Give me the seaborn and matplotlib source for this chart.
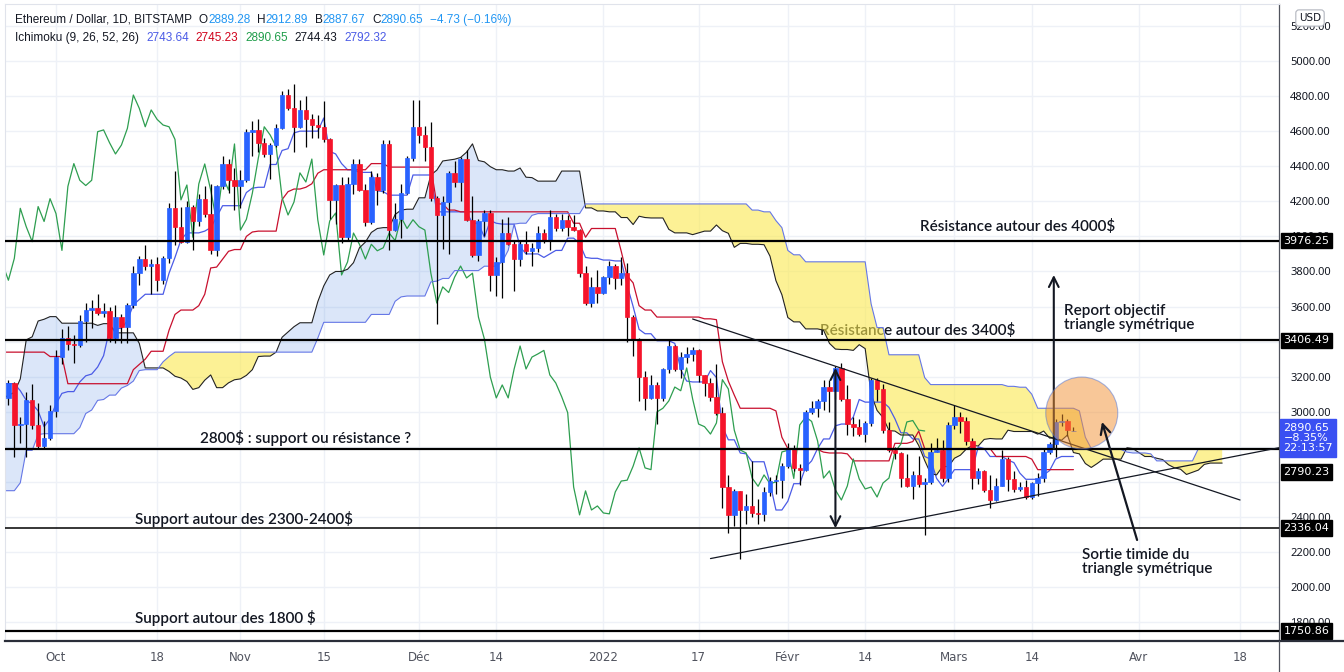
import numpy as np
import pandas as pd
import matplotlib
matplotlib.use('Agg')
import matplotlib.pyplot as plt
import matplotlib.dates as mdates
import matplotlib.transforms as mtransforms
from matplotlib.patches import Ellipse
from matplotlib.lines import Line2D
import seaborn as sns

# ---- daily candles ETH/USD (Bitstamp), 2021-09-23 .. 2022-03-21
opens = [
    3079, 3164, 2925, 2930, 3065, 2925, 2805, 2850,
    3005, 3310, 3420, 3385, 3380, 3515, 3580, 3590, 3565, 3575, 3420, 3540, 3485, 3610, 3790, 3870,
    3830, 3845, 3750, 3875, 4160, 4055, 3970, 4170, 4085, 4215, 4130, 3920, 4285, 4415, 4320,
    4290, 4320, 4597, 4607, 4534, 4470, 4521, 4616, 4806, 4730, 4625, 4721, 4667, 4635, 4625,
    4553, 4208, 4293, 3995, 4299, 4413, 4264, 4084, 4341, 4264, 4527, 4036, 4097, 4246, 4445,
    4625, 4578, 4512, 4220, 4122, 4196, 4362, 4310, 4441, 4094, 3894, 4088, 4133, 3780, 3854,
    4019, 3955, 3871, 3955, 3918, 3935, 4019, 3976, 4110, 4045, 4095, 4055, 4036, 3791, 3620, 3712,
    3680, 3768, 3831, 3763, 3790, 3540, 3415, 3198, 3079, 3153, 3079, 3244, 3375, 3244, 3312,
    3330, 3350, 3210, 3164, 3085, 2995, 2571, 2412, 2549, 2440, 2463, 2423, 2418, 2543, 2605, 2610,
    2690, 2794, 2680, 2670, 2999, 3020, 3062, 3141, 3120, 3250, 3073, 2930, 2915, 2873, 2936,
    3183, 3130, 2895, 2782, 2765, 2622, 2575, 2640, 2590, 2600, 2771, 2780, 2620,
    2925, 2970, 2945, 2834, 2622, 2663, 2554, 2497, 2577, 2731, 2617, 2560, 2571, 2514, 2594,
    2622, 2771, 2816, 2942, 2950, 2889.28,
]
highs = [
    3180, 3170, 2970, 3110, 3160, 3050, 2950, 3040,
    3350, 3470, 3490, 3440, 3550, 3620, 3640, 3670, 3620, 3600, 3610, 3560, 3620, 3830, 3890, 3950,
    3870, 3880, 3890, 4190, 4370, 4170, 4200, 4180, 4240, 4290, 4300, 4295, 4460, 4440, 4390,
    4380, 4610, 4660, 4670, 4560, 4530, 4640, 4830, 4840, 4870, 4780, 4800, 4700, 4690, 4770,
    4560, 4300, 4340, 4340, 4440, 4440, 4300, 4370, 4360, 4550, 4550, 4190, 4300, 4460, 4780,
    4780, 4630, 4650, 4230, 4230, 4370, 4430, 4450, 4490, 4230, 4100, 4150, 4150, 3880, 4100,
    4110, 3980, 3980, 4030, 3960, 4060, 4040, 4150, 4130, 4130, 4120, 4120, 4040, 3830, 3770, 3810,
    3775, 3860, 3840, 3880, 3850, 3550, 3420, 3230, 3210, 3170, 3250, 3410, 3380, 3340, 3370,
    3370, 3360, 3210, 3190, 3270, 3030, 2640, 2560, 2550, 2530, 2720, 2500, 2570, 2630, 2640, 2710,
    2820, 2810, 2700, 3010, 3060, 3070, 3180, 3180, 3260, 3280, 3150, 2970, 2960, 2950, 3190,
    3190, 3160, 2940, 2800, 2770, 2760, 2660, 2750, 2620, 2820, 2850, 2840, 2940,
    3040, 3000, 2970, 2850, 2680, 2670, 2640, 2620, 2780, 2740, 2660, 2600, 2610, 2600, 2650,
    2790, 2830, 2960, 2990, 2960, 2912.89,
]
lows = [
    3040, 2740, 2820, 2740, 2900, 2790, 2790, 2840,
    2970, 3270, 3350, 3280, 3370, 3400, 3480, 3550, 3540, 3400, 3390, 3390, 3390, 3590, 3720, 3810,
    3670, 3690, 3730, 3850, 3950, 3960, 3960, 3920, 4060, 4110, 3900, 3890, 4270, 4250, 4150,
    4160, 4310, 4460, 4480, 4450, 4330, 4510, 4610, 4720, 4480, 4620, 4510, 4560, 4560, 4540,
    4100, 4070, 3960, 3980, 4240, 4260, 4060, 4070, 4180, 4250, 3920, 4030, 3990, 4240, 4430,
    4530, 4430, 4200, 3500, 3930, 3900, 4280, 4200, 4090, 3880, 3860, 4000, 3690, 3660, 3650,
    3950, 3690, 3830, 3900, 3830, 3910, 3960, 3920, 4030, 4030, 4000, 4030, 3770, 3610, 3600, 3620,
    3670, 3730, 3700, 3720, 3400, 3320, 3060, 3010, 3070, 2930, 3060, 3220, 3230, 3190, 3280,
    3290, 3170, 3090, 3060, 2980, 2450, 2310, 2350, 2160, 2360, 2400, 2360, 2380, 2520, 2530, 2510,
    2680, 2660, 2580, 2660, 2990, 2970, 3010, 3000, 3070, 3060, 2870, 2860, 2860, 2830, 2920,
    3060, 2880, 2770, 2730, 2570, 2570, 2500, 2570, 2300, 2590, 2770, 2600, 2600,
    2900, 2880, 2810, 2560, 2590, 2540, 2450, 2490, 2575, 2550, 2540, 2550, 2500, 2500, 2520,
    2600, 2760, 2740, 2920, 2860, 2887.67,
]
closes = opens[1:-1] + [2895.38, 2890.65]

# earlier highs / lows (2021-07-08 .. 2021-09-22), only feed the Ichimoku windows
pre_high = [
    2330, 2200, 2190, 2150, 2150, 2040, 2000, 2030, 1970, 1930, 1960, 1910, 1830, 2030, 2040, 2130,
    2190, 2200, 2450, 2320, 2340, 2400, 2470, 2550,
    2700, 2660, 2630, 2740, 2840, 2950, 3180, 3180, 3180, 3230, 3270, 3240, 3320, 3330, 3330, 3330,
    3290, 3130, 3190, 3290, 3340, 3300, 3380, 3360, 3250, 3250, 3280, 3280, 3250, 3330, 3470,
    3840, 3840, 4020, 4030, 3980, 3980, 3980, 3550, 3560, 3530, 3280, 3460, 3440, 3440, 3600, 3670,
    3590, 3480, 3440, 3360, 3100, 3100,
]
pre_low = [
    2090, 2080, 2080, 2080, 2020, 1950, 1910, 1900, 1860, 1880, 1880, 1800, 1720, 1790, 1950, 1990,
    2100, 2110, 2180, 2160, 2240, 2270, 2320, 2440,
    2550, 2550, 2450, 2540, 2600, 2730, 2880, 2990, 2950, 3060, 3120, 2960, 3030, 3160, 3110, 3150,
    2980, 2960, 2960, 3160, 3170, 3150, 3240, 3150, 3080, 3080, 3090, 3190, 3150, 3170, 3200,
    3390, 3720, 3710, 3840, 3860, 3850, 3000, 3210, 3400, 3200, 3190, 3250, 3100, 3260, 3420, 3510,
    3350, 3380, 3320, 2930, 2650, 2740,
]

levels = [3976.25, 3406.49, 2790.23, 2336.04, 1750.86]
level_widths = [1.6, 1.6, 1.6, 1.1, 1.6]

tick_dates = ['2021-10-01', '2021-10-18', '2021-11-01', '2021-11-15', '2021-12-01', '2021-12-14',
              '2022-01-01', '2022-01-17', '2022-02-01', '2022-02-14', '2022-03-01', '2022-03-14',
              '2022-04-01', '2022-04-18']
tick_labels = ['Oct', '18', 'Nov', '15', 'Déc', '14', '2022', '17', 'Févr', '14', 'Mars', '14', 'Avr', '18']
price_ticks = [1800, 2000, 2200, 2400, 3000, 3200, 3600, 3800, 4000, 4200, 4400, 4600, 4800, 5000, 5200]

header_ohlc = [('O', '2889.28'), ('H', '2912.89'), ('B', '2887.67'), ('C', '2890.65')]
header_change = '−4.73 (−0.16%)'
ichimoku_vals = ['2743.64', '2745.23', '2890.65', '2744.43', '2792.32']
ichimoku_cols = ['#4b5be6', '#d0021b', '#1f9d4a', '#131722', '#4b5be6']

upper_trend = (['2022-01-16', '2022-04-18'], [3529, 2497])
lower_trend = (['2022-01-19', '2022-04-25'], [2163, 2798])

sns.set_style('white')
plt.rcParams['font.family'] = ['Noto Sans', 'DejaVu Sans']

UP = '#2962ff'
DOWN = '#f5142b'
TXT = '#131722'
NOTE_FONT = ['Lato', 'Noto Sans', 'DejaVu Sans']

dates = pd.date_range('2021-09-23', periods=len(closes), freq='D')
pre_dates = pd.date_range('2021-07-08', periods=len(pre_high), freq='D')

# ---- Ichimoku (9, 26, 52, 26)
hi = pd.Series(pre_high + highs, index=pre_dates.append(dates), dtype=float)
lo = pd.Series(pre_low + lows, index=hi.index, dtype=float)
cl = pd.Series(closes, index=dates, dtype=float)
tenkan = (hi.rolling(9).max() + lo.rolling(9).min()) / 2
kijun = (hi.rolling(26).max() + lo.rolling(26).min()) / 2
span_a = (tenkan + kijun) / 2
span_b = (hi.rolling(52).max() + lo.rolling(52).min()) / 2
shift = pd.Timedelta(days=25)
span_a.index = span_a.index + shift
span_b.index = span_b.index + shift
chikou = cl.copy()
chikou.index = chikou.index - shift


def X(d):
    return mdates.date2num(pd.Timestamp('2021-10-01')) + d


def num(idx):
    return mdates.date2num(pd.DatetimeIndex(idx))


fig = plt.figure(figsize=(13.44, 6.72), dpi=100)
ax = fig.add_axes([5 / 1344, 31 / 672, 1274 / 1344, 637 / 672])

ax.set_xlim(X(-8.57), X(205.55))
ax.set_ylim(1693, 5325)

# cloud
cloud = pd.DataFrame({'a': span_a, 'b': span_b}).dropna()
cx = num(cloud.index)
ax.fill_between(cx, cloud['a'], cloud['b'], where=cloud['a'] >= cloud['b'], interpolate=True,
                color='#5b8fe6', alpha=0.22, lw=0, zorder=1.5)
ax.fill_between(cx, cloud['a'], cloud['b'], where=cloud['a'] < cloud['b'], interpolate=True,
                color='#fbe94f', alpha=0.6, lw=0, zorder=1.5)

lines = [
    (tenkan, '#4b5be6', 0.9),
    (kijun, '#c8102e', 0.9),
    (chikou, '#2e9e50', 0.9),
    (cloud['a'], '#222222', 0.8),
    (cloud['b'], '#6577e6', 0.8),
]
for s, col, lw in lines:
    s = s.dropna()
    s = s[s.index >= pd.Timestamp('2021-09-10')]
    sns.lineplot(x=num(s.index), y=s.values, color=col, lw=lw, ax=ax, zorder=2)

# candles
xs = num(dates)
o = np.array(opens)
c = np.array(closes)
cols = np.where(c >= o, UP, DOWN)
ax.vlines(xs, lows, highs, color='black', lw=0.9, zorder=3)
ax.bar(xs, c - o, bottom=o, width=0.75, color=cols, edgecolor=cols, linewidth=0.5, zorder=4)

# horizontal levels
for lv, lw in zip(levels, level_widths):
    ax.axhline(lv, color='black', lw=lw, zorder=5)

# triangle
ax.plot(num(upper_trend[0]), upper_trend[1], color=TXT, lw=0.9, zorder=5)
ax.plot(num(lower_trend[0]), lower_trend[1], color=TXT, lw=0.9, zorder=5)

# arrows
ax.annotate('', xy=(X(131), 3250), xytext=(X(131), 2336),
            arrowprops=dict(arrowstyle='<->,head_length=0.7,head_width=0.35', lw=1.5, color=TXT,
                            shrinkA=0, shrinkB=0), zorder=6)
ax.annotate('', xy=(X(167.7), 3780), xytext=(X(167.7), 2790),
            arrowprops=dict(arrowstyle='->,head_length=0.7,head_width=0.35', lw=1.5, color=TXT,
                            shrinkA=0, shrinkB=0), zorder=6)
ax.add_patch(Ellipse((X(172.4), 2993), 12.1, 410, facecolor='#f29132', alpha=0.5,
                     edgecolor='#4e74d8', lw=0.8, zorder=6))
ax.annotate('', xy=(X(175.8), 2942), xytext=(X(181.7), 2269),
            arrowprops=dict(arrowstyle='->,head_length=0.7,head_width=0.35', lw=1.6, color=TXT,
                            shrinkA=0, shrinkB=0), zorder=7)

# labels
fs = 11
kw = dict(fontsize=fs, color=TXT, va='center', family=NOTE_FONT, fontweight='semibold')
ax.text(X(145.2), 4059, 'Résistance autour des 4000$', zorder=1.2, **kw)
ax.text(X(128.4), 3461, 'Résistance autour des 3400$', zorder=1.2, **kw)
ax.text(X(24.2), 2851, '2800$ : support ou résistance ?', zorder=1.2, **kw)
ax.text(X(13.3), 2389, 'Support autour des 2300-2400$', zorder=1.2, **kw)
ax.text(X(13.3), 1824, 'Support autour des 1800 $', zorder=1.2, **kw)
ax.text(X(169.4), 3535, 'Report objectif\ntriangle symétrique', linespacing=0.95, zorder=8, **kw)
ax.text(X(172.4), 2144, 'Sortie timide du\ntriangle symétrique', linespacing=0.95, zorder=8, **kw)

# grid / axes
ax.set_yticks(price_ticks)
ax.set_xticks([X((pd.Timestamp(d) - pd.Timestamp('2021-10-01')).days) for d in tick_dates])
ax.set_xticklabels(tick_labels)
ax.yaxis.tick_right()
ax.yaxis.set_major_formatter(lambda v, p: f'{v:.2f}')
for gy in range(1800, 5201, 200):
    ax.axhline(gy, color='#eef1f7', lw=1, zorder=0.5)
ax.grid(True, axis='x', color='#eef1f7', lw=1)
ax.set_axisbelow(True)
ax.tick_params(axis='y', length=0, pad=8, labelsize=8, labelcolor=TXT)
ax.tick_params(axis='x', length=0, pad=7, labelsize=8.5, labelcolor='#50535e')
for lab in ax.get_xticklabels():
    lab.set_family(['Liberation Sans Narrow', 'DejaVu Sans'])
for side in ['top', 'left']:
    ax.spines[side].set_color('#e0e3eb')
    ax.spines[side].set_linewidth(0.8)
ax.spines['right'].set_color('#50535e')
ax.spines['right'].set_linewidth(0.9)
ax.spines['bottom'].set_color('#2a2e39')
ax.spines['bottom'].set_linewidth(1.6)
fig.add_artist(Line2D([1279 / 1344, 1], [31 / 672, 31 / 672], color='#2a2e39', lw=1.6))
fig.add_artist(Line2D([1279 / 1344, 1279 / 1344], [0, 31 / 672], color='#50535e', lw=0.9))

# price tags on the right axis
trans = mtransforms.blended_transform_factory(ax.transAxes, ax.transData)
tag_pos = {3976.25: 3976.25, 3406.49: 3406.49, 2790.23: 2657, 2336.04: 2336.04, 1750.86: 1750.86}
for lv in levels:
    ax.text(1.0035, tag_pos[lv], f'{lv:.2f}', transform=trans, ha='left', va='center', color='white',
            fontsize=8, family='DejaVu Sans', clip_on=False, zorder=10,
            bbox=dict(boxstyle='square,pad=0.25', fc='black', ec='black'))
ax.text(1.0035, 2938, '2890.65\n−8.35%\n22:13:57', transform=trans, ha='left', va='top', color='white',
        fontsize=8, family='DejaVu Sans', linespacing=1.05, clip_on=False, zorder=11,
        bbox=dict(boxstyle='square,pad=0.3', fc='#3a50f2', ec='#3a50f2'))
fig.text(1310 / 1344, 1 - 18 / 672, 'USD', ha='center', va='center', fontsize=7.5, color=TXT,
         family='DejaVu Sans', bbox=dict(boxstyle='round,pad=0.3', fc='white', ec='#b2b5be', lw=0.8))

# header
hfs = 8.5
VAL = '#2196f3'
HFONT = ['Liberation Sans', 'DejaVu Sans']
prev = ax.text(10 / 1274, 1 - 16 / 637, 'Ethereum / Dollar, 1D, BITSTAMP', transform=ax.transAxes,
               fontsize=hfs, color=TXT, va='center', family=HFONT, zorder=12)
for k, v in header_ohlc:
    prev = ax.annotate(k, xy=(1, 0), xycoords=prev, xytext=(5, 0), textcoords='offset points',
                       va='bottom', fontsize=hfs, color=TXT, family=HFONT)
    prev = ax.annotate(v, xy=(1, 0), xycoords=prev, xytext=(0, 0), textcoords='offset points',
                       va='bottom', fontsize=hfs, color=VAL, family=HFONT)
ax.annotate(header_change, xy=(1, 0), xycoords=prev, xytext=(5, 0), textcoords='offset points',
            va='bottom', fontsize=hfs, color=VAL, family=HFONT)
prev = ax.text(10 / 1274, 1 - 34 / 637, 'Ichimoku (9, 26, 52, 26)', transform=ax.transAxes,
               fontsize=hfs, color=TXT, va='center', family=HFONT, zorder=12)
for v, col in zip(ichimoku_vals, ichimoku_cols):
    prev = ax.annotate(v, xy=(1, 0), xycoords=prev, xytext=(5, 0), textcoords='offset points',
                       va='bottom', fontsize=hfs, color=col, family=HFONT)

fig.savefig('out.png', dpi=100, facecolor='white')
